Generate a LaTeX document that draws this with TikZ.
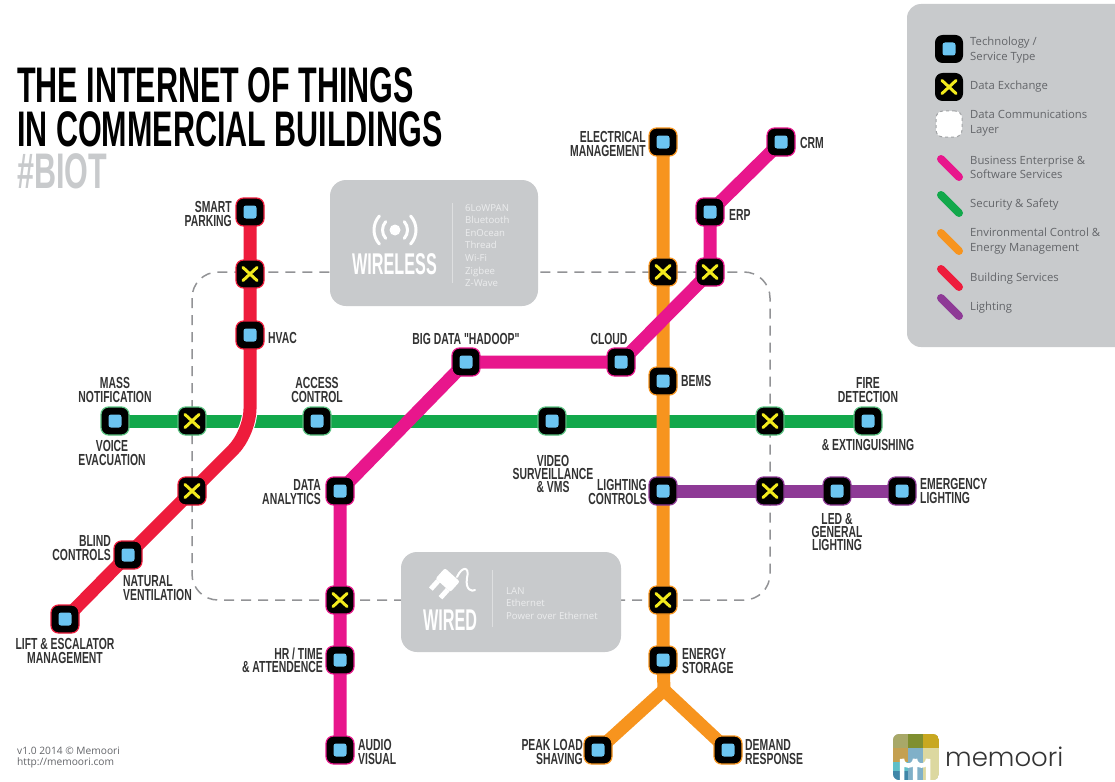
\documentclass[tikz,border=0pt]{standalone}
\usepackage{fontspec}
\setmainfont{Open Sans}
\newfontfamily\condl[FakeStretch=0.65]{Liberation Sans}
\newfontfamily\condt[FakeStretch=0.61]{Liberation Sans}
\newfontfamily\condw[FakeStretch=0.54]{Liberation Sans}
\newfontfamily\logofont{Poppins Light}
\usetikzlibrary{backgrounds}
\definecolor{cPink}{HTML}{E8168C}
\definecolor{cGreen}{HTML}{12A84B}
\definecolor{cOrange}{HTML}{F7941E}
\definecolor{cRed}{HTML}{EE1C3C}
\definecolor{cPurple}{HTML}{8E3A96}
\definecolor{cCore}{HTML}{6CC5F1}
\definecolor{cX}{HTML}{F2EA1D}
\definecolor{cPanel}{HTML}{C8CACC}
\definecolor{cInk}{HTML}{333333}
\definecolor{cLeg}{HTML}{636569}
\definecolor{cSoft}{HTML}{ECEDEE}
\definecolor{lgA}{HTML}{A8A868}
\definecolor{lgB}{HTML}{7F8F30}
\definecolor{lgC}{HTML}{C8A820}
\definecolor{lgD}{HTML}{C4A050}
\definecolor{lgE}{HTML}{5FBFC8}
\definecolor{lgF}{HTML}{3F86A8}
\definecolor{lgG}{HTML}{80B0C8}
\definecolor{lgH}{HTML}{DCD8A0}
\tikzset{
  x=1pt,y=-1pt,
  tech/.style={rectangle,rounded corners=7.5pt,fill=black,minimum size=28pt,inner sep=0pt,line width=1.2pt,
    path picture={\fill[cCore,rounded corners=2.5pt] ([shift={(-6.5pt,-6.5pt)}]path picture bounding box.center) rectangle ([shift={(6.5pt,6.5pt)}]path picture bounding box.center);}},
  xchg/.style={rectangle,rounded corners=7.5pt,fill=black,minimum size=28pt,inner sep=0pt,line width=1.2pt,
    path picture={\draw[cX,line width=3pt,line cap=round] ([shift={(-7pt,-6.5pt)}]path picture bounding box.center) -- ([shift={(7pt,6.5pt)}]path picture bounding box.center) ([shift={(-7pt,6.5pt)}]path picture bounding box.center) -- ([shift={(7pt,-6.5pt)}]path picture bounding box.center);}},
  metro/.style={line width=13pt,line join=round},
  legline/.style={line width=8pt,line cap=round},
  lab/.style={font=\condl\bfseries\fontsize{16}{13.4}\selectfont,text=cInk,inner sep=0pt},
  labl/.style={lab,anchor=west,align=left},
  labr/.style={lab,anchor=east,align=right},
  labc/.style={lab,anchor=center,align=center},
  legtxt/.style={font=\fontsize{11.3}{14.6}\selectfont,text=cLeg,anchor=west,align=left,inner sep=0pt},
  title/.style={font=\condt\bfseries\fontsize{50}{50}\selectfont,anchor=west,inner sep=0pt},
  gbox/.style={fill=cPanel,rounded corners=16pt,inner sep=0pt},
  techlist/.style={font=\fontsize{9.6}{12.6}\selectfont,text=cSoft,anchor=west,align=left,inner sep=0pt},
  bigw/.style={font=\condw\bfseries\fontsize{30}{30}\selectfont,text=white,inner sep=0pt},
}
\begin{document}
\begin{tikzpicture}
\useasboundingbox (0,0) rectangle (1115,781);

% panels
\node[gbox,minimum width=208pt,minimum height=126pt] (wlbox) at (434,243) {};
\node[gbox,minimum width=220pt,minimum height=100pt] (wdbox) at (511,602) {};
\begin{scope}
 \clip (0,0) rectangle (1115,781);
 \fill[cPanel,rounded corners=14pt] (907,4) -- (1130,4) -- (1130,347) -- (907,347) -- cycle;
\end{scope}

% wireless content
\fill[white] (395,230) circle (5.5pt);
\foreach \r in {12.5,21}{
 \draw[white,line width=3pt,line cap=round] (395,230) ++(-42:\r) arc (-42:42:\r);
 \draw[white,line width=3pt,line cap=round] (395,230) ++(138:\r) arc (138:222:\r);
}
\node[bigw] (wltxt) at (394.5,264) {WIRELESS};
\draw[cSoft!60!cPanel,line width=.7pt] (452,203) -- (452,283);
\node[techlist] (wllist) at (465,245.5) {6LoWPAN\\Bluetooth\\EnOcean\\Thread\\Wi-Fi\\Zigbee\\Z-Wave};

% wired content
\begin{scope}[shift={(445,583)},rotate=-42]
 \fill[white,rounded corners=2pt] (-10,-11) rectangle (10,3);
 \fill[white] (-9,3) rectangle (-4,14);
 \fill[white] (4,3) rectangle (9,14);
\end{scope}
\draw[white,line width=2pt,line cap=round] (457,577) .. controls (462,566) and (470,566) .. (467,578) .. controls (465,590) and (472,592) .. (475,590);
\node[bigw] (wdtxt) at (450,620) {WIRED};
\draw[cSoft!60!cPanel,line width=.7pt] (492,570) -- (492,627);
\node[techlist] (wdlist) at (506,603.5) {LAN\\Ethernet\\Power over Ethernet};

% title
\node[title] (t1) at (17,85.5) {THE INTERNET OF THINGS};
\node[title] (t2) at (17,129.5) {IN COMMERCIAL BUILDINGS};
\node[title,text=cPanel] (t3) at (17,171) {\#BIOT};

% stations: building services
\node[tech,draw=cRed] (park) at (250,212) {};
\node[xchg,draw=cRed] (rx1) at (250,274) {};
\node[tech,draw=cRed] (hvac) at (250,335) {};
\node[xchg,draw=cRed] (rx2) at (192,491) {};
\node[tech,draw=cRed] (blind) at (128,555) {};
\node[tech,draw=cRed] (lift) at (65,619) {};
% security
\node[tech,draw=cGreen!70] (mass) at (115,421) {};
\node[xchg,draw=cGreen!70] (gx1) at (192,421) {};
\node[tech,draw=cGreen!70] (access) at (317,421) {};
\node[tech,draw=cGreen!70] (video) at (552,421) {};
\node[xchg,draw=cGreen!70] (gx2) at (770,421) {};
\node[tech,draw=cGreen!70] (fire) at (868,421) {};
% business
\node[tech,draw=cPink] (audio) at (340,750) {};
\node[tech,draw=cPink] (hr) at (340,660) {};
\node[xchg,draw=cPink] (px1) at (340,600) {};
\node[tech,draw=cPink] (data) at (340,491) {};
\node[tech,draw=cPink] (big) at (466,362) {};
\node[tech,draw=cPink] (cloud) at (621,362) {};
\node[xchg,draw=cPink] (px2) at (710,272) {};
\node[tech,draw=cPink] (erp) at (710,212) {};
\node[tech,draw=cPink] (crm) at (781,142) {};
% environment
\node[tech,draw=cOrange] (elec) at (663,142) {};
\node[xchg,draw=cOrange] (ox1) at (663,272) {};
\node[tech,draw=cOrange] (bems) at (663,381) {};
\node[tech,draw=cPurple] (lctl) at (663,491) {};
\node[xchg,draw=cOrange] (ox2) at (663,600) {};
\node[tech,draw=cOrange] (stor) at (663,660) {};
\coordinate (split) at (664,690);
\node[tech,draw=cOrange] (peak) at (598,750) {};
\node[tech,draw=cOrange] (demand) at (728,750) {};
% lighting
\node[xchg,draw=cPurple] (lx1) at (770,491) {};
\node[tech,draw=cPurple] (led) at (837,491) {};
\node[tech,draw=cPurple] (emer) at (902,491) {};
\coordinate (rbend) at (250,433);

\begin{scope}[on background layer]
 \fill[white] (0,0) rectangle (1115,781);
 \draw[cLeg!70,line width=1.5pt,dash pattern=on 10pt off 7pt,rounded corners=26pt] (192,272) rectangle (770,600);
 \draw[metro,cGreen] (mass.center) -- (gx1.center) -- (access.center) -- (video.center) -- (gx2.center) -- (fire.center);
 \draw[metro,cPurple] (lctl.center) -- (lx1.center) -- (led.center) -- (emer.center);
 \draw[metro,cOrange] (elec.center) -- (ox1.center) -- (bems.center) -- (lctl.center) -- (ox2.center) -- (stor.center) -- (split);
 \draw[metro,cOrange] (peak.center) -- (split) -- (demand.center);
 \draw[metro,cPink] (audio.center) -- (hr.center) -- (px1.center) -- (data.center) -- (big.center) -- (cloud.center) -- (px2.center) -- (erp.center) -- (crm.center);
 \draw[line width=15pt,white,rounded corners=24pt] (hvac.center) -- (rbend) -- (rx2.center);
 \draw[metro,cRed,rounded corners=24pt] (park.center) -- (rx1.center) -- (hvac.center) -- (rbend) -- (rx2.center) -- (blind.center) -- (lift.center);
\end{scope}

% station labels
\node[labr] (l1) at (232,214) {SMART\\PARKING};
\node[labl] (l2) at (268,338) {HVAC};
\node[labc] (l3) at (115,390) {MASS\\NOTIFICATION};
\node[labc] (l4) at (112,453) {VOICE\\EVACUATION};
\node[labc] (l5) at (317,390) {ACCESS\\CONTROL};
\node[labc] (l6) at (466,339) {BIG DATA "HADOOP"};
\node[labc] (l7) at (609,339) {CLOUD};
\node[labl] (l8) at (681,381) {BEMS};
\node[labr] (l9) at (646,144) {ELECTRICAL\\MANAGEMENT};
\node[labl] (l10) at (800,143) {CRM};
\node[labl] (l11) at (729,215) {ERP};
\node[labc] (l12) at (868,390) {FIRE\\DETECTION};
\node[labc] (l13) at (868,445) {\& EXTINGUISHING};
\node[labc] (l14) at (553,474) {VIDEO\\SURVEILLANCE\\\& VMS};
\node[labr] (l15) at (647,492) {LIGHTING\\CONTROLS};
\node[labr] (l16) at (321,492) {DATA\\ANALYTICS};
\node[labc] (l17) at (837,532) {LED \&\\GENERAL\\LIGHTING};
\node[labl] (l18) at (920,491) {EMERGENCY\\LIGHTING};
\node[labr] (l19) at (111,548) {BLIND\\CONTROLS};
\node[labl] (l20) at (123,588) {NATURAL\\VENTILATION};
\node[labc] (l21) at (65,651) {LIFT \& ESCALATOR\\MANAGEMENT};
\node[labr] (l22) at (323,660) {HR / TIME\\\& ATTENDENCE};
\node[labl] (l23) at (358,752) {AUDIO\\VISUAL};
\node[labl] (l24) at (682,661) {ENERGY\\STORAGE};
\node[labr] (l25) at (583,752) {PEAK LOAD\\SHAVING};
\node[labl] (l26) at (745,752) {DEMAND\\RESPONSE};

% legend
\node[tech] (k1) at (949,49) {};
\node[xchg] (k2) at (949,87) {};
\node[rectangle,rounded corners=7pt,fill=white,draw=cLeg!60,dashed,line width=1pt,minimum size=26pt,inner sep=0pt] (k3) at (949,124) {};
\foreach \n/\c/\y in {a/cPink/168,b/cGreen/204,c/cOrange/242,d/cRed/278,e/cPurple/307}{
 \coordinate (k\n s) at (941,\y-9);
 \coordinate (k\n e) at (959,\y+9);
 \draw[legline,\c] (k\n s) -- (k\n e);
}
\node[legtxt] (g1) at (970,50) {Technology /\\Service Type};
\node[legtxt] (g2) at (970,87) {Data Exchange};
\node[legtxt] (g3) at (970,123.5) {Data Communications\\Layer};
\node[legtxt] (g4) at (970,167.5) {Business Enterprise \&\\Software Services};
\node[legtxt] (g5) at (970,204.5) {Security \& Safety};
\node[legtxt] (g6) at (970,241) {Environmental Control \&\\Energy Management};
\node[legtxt] (g7) at (970,278.5) {Building Services};
\node[legtxt] (g8) at (970,307.5) {Lighting};

% footer
\node[font=\fontsize{10.2}{11.5}\selectfont,text=cLeg,anchor=west,align=left,inner sep=0pt] (foot) at (17,757.5) {v1.0 2014 © Memoori\\http://memoori.com};

% logo
\begin{scope}
 \clip[rounded corners=6pt] (893,734) rectangle (939,780);
 \fill[cPanel] (893,734) rectangle (939,780);
 \fill[lgA] (893,734) rectangle (908,748);
 \fill[lgB] (908,734) rectangle (923,748);
 \fill[lgC] (923,734) rectangle (939,748);
 \fill[lgD] (893,748) rectangle (908,762);
 \fill[lgE] (893,762) rectangle (908,771);
 \fill[lgF] (893,771) rectangle (908,780);
 \fill[lgG] (908,748) rectangle (923,780);
 \fill[lgH] (923,748) rectangle (939,780);
 \draw[white,line width=4.5pt] (902,780) -- (902,759) arc (180:0:6.5) -- (915,780) (915,759) arc (180:0:6.5) -- (928,780);
\end{scope}
\node[font=\logofont\fontsize{26}{26}\selectfont,text=cInk,anchor=west,inner sep=0pt] (logo) at (945,757) {memoori};
\end{tikzpicture}
\end{document}
